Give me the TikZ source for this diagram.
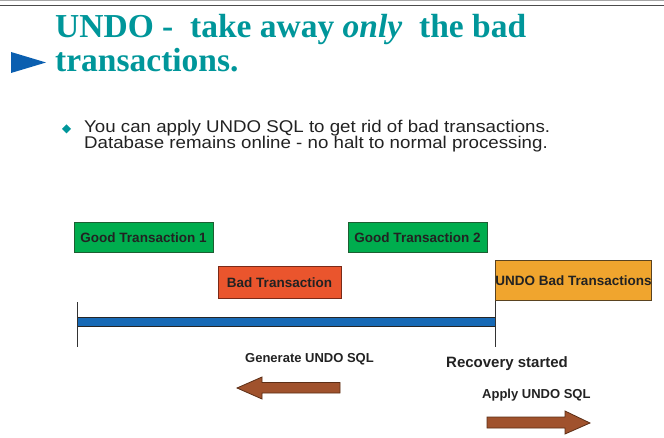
\documentclass[tikz,border=0pt]{standalone}
\usepackage{fontspec}
\setmainfont{Liberation Sans}
\newfontfamily\titlefont{Liberation Serif}
\newfontfamily\bodyfont[FakeStretch=1.1]{Liberation Sans}
\usetikzlibrary{calc}

\definecolor{titleteal}{HTML}{00969A}
\definecolor{markblue}{HTML}{0B5FB0}
\definecolor{goodfill}{HTML}{00AD4E}
\definecolor{goodedge}{HTML}{1D5E32}
\definecolor{badfill}{HTML}{EA552D}
\definecolor{badedge}{HTML}{7A2A18}
\definecolor{undofill}{HTML}{F0A52E}
\definecolor{undoedge}{HTML}{5A4320}
\definecolor{arrowfill}{HTML}{A0522D}
\definecolor{arrowedge}{HTML}{5B2E16}
\definecolor{barfill}{HTML}{1769B5}
\definecolor{textdark}{HTML}{222222}

\tikzset{
  titletext/.style={anchor=base west, inner sep=0pt, text=titleteal,
    font=\titlefont\fontsize{33.5}{38}\selectfont\bfseries},
  bodytext/.style={anchor=base west, inner sep=0pt, text=textdark,
    align=left, font=\bodyfont\fontsize{17}{15}\selectfont},
  txbox/.style={draw, line width=1pt, inner sep=0pt, text=textdark,
    font=\fontsize{13.5}{15}\selectfont\bfseries},
  goodbox/.style={txbox, fill=goodfill, draw=goodedge,
    minimum width=139pt, minimum height=30pt},
  badbox/.style={txbox, fill=badfill, draw=badedge,
    minimum width=123pt, minimum height=32pt},
  undobox/.style={txbox, fill=undofill, draw=undoedge,
    minimum width=155pt, minimum height=40pt},
  label/.style={anchor=base west, inner sep=0pt, text=textdark,
    font=\fontsize{13}{15}\selectfont\bfseries},
  tick/.style={draw=black!80, line width=0.9pt},
  fatarrow/.style={fill=arrowfill, draw=arrowedge, line width=0.8pt}
}

\begin{document}
\begin{tikzpicture}[x=1pt, y=-1pt]
  \useasboundingbox (0,0) rectangle (664,438);

  % header rules
  \draw[black!35, line width=1pt] (0,0.5) -- (664,0.5);
  \draw[black!70, line width=1.3pt] (0,5.5) -- (664,5.5);

  % title with pointer
  \fill[markblue] (11,52) -- (46,62.5) -- (11,73) -- cycle;
  \node[titletext] (title1) at (55,38)
    {UNDO -\ \ take away \textit{only}\ \ the bad};
  \node[titletext] (title2) at (55,72) {transactions.};

  % bullet point (base anchor sits on the last line)
  \fill[titleteal] (66.5,124.5) -- (71,129) -- (66.5,133.5) -- (62,129) -- cycle;
  \node[bodytext] (bullet) at (84,149)
    {You can apply UNDO SQL to get rid of bad transactions.\\
     Database remains online - no halt to normal processing.};

  % transactions
  \node[goodbox] (good1) at (143.5,238) {Good Transaction 1};
  \node[goodbox] (good2) at (417.5,238) {Good Transaction 2};
  \node[badbox]  (bad)   at (279.5,283) {Bad Transaction};
  \node[undobox] (undo)  at (573.5,281) {UNDO Bad Transactions};

  % timeline
  \coordinate (tstart) at (77,321.5);
  \coordinate (tend) at (495,321.5);
  \draw[fill=barfill, draw=black!85, line width=0.9pt]
    ($(tstart)+(0,-4.5)$) rectangle ($(tend)+(0,4.5)$);
  \draw[tick] ($(tstart)+(0,-19)$) -- ($(tstart)+(0,25)$);
  \draw[tick] (undo.south -| tend) -- ($(tend)+(0,25)$);

  % labels
  \node[label] (gen) at (245,362) {Generate UNDO SQL};
  \node[label, font=\fontsize{15}{16}\selectfont\bfseries]
    (rec) at (446,367) {Recovery started};
  \node[label] (apply) at (482,398) {Apply UNDO SQL};

  % direction arrows
  \draw[fatarrow] (340,382.5) -- (262,382.5) -- (262,377) -- (237,388)
    -- (262,399) -- (262,393) -- (340,393) -- cycle;
  \draw[fatarrow] (487,417) -- (565,417) -- (565,411) -- (590,423)
    -- (565,434) -- (565,428) -- (487,428) -- cycle;
\end{tikzpicture}
\end{document}
